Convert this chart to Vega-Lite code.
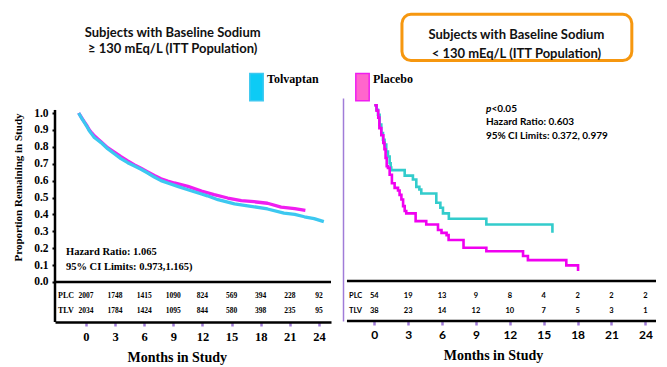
{
  "$schema": "https://vega.github.io/schema/vega-lite/v6.json",
  "background": "white",
  "padding": {"left": 11, "top": 12, "right": 5, "bottom": 5},
  "spacing": 10,
  "config": {"view": {"stroke": null}, "font": "Lato", "axis": {"grid": false, "labelOverlap": false}},
  "resolve": {"scale": {"color": "shared", "x": "independent", "y": "independent"}},
  "datasets": {
    "curves": [
      {"panel": "left", "arm": "Placebo", "month": -0.75, "surv": 1.0},
      {"panel": "left", "arm": "Placebo", "month": -0.45, "surv": 0.972},
      {"panel": "left", "arm": "Placebo", "month": -0.17, "surv": 0.948},
      {"panel": "left", "arm": "Placebo", "month": 0.1, "surv": 0.925},
      {"panel": "left", "arm": "Placebo", "month": 0.34, "surv": 0.9},
      {"panel": "left", "arm": "Placebo", "month": 0.6, "surv": 0.882},
      {"panel": "left", "arm": "Placebo", "month": 0.86, "surv": 0.865},
      {"panel": "left", "arm": "Placebo", "month": 1.2, "surv": 0.848},
      {"panel": "left", "arm": "Placebo", "month": 1.55, "surv": 0.83},
      {"panel": "left", "arm": "Placebo", "month": 2.23, "surv": 0.795},
      {"panel": "left", "arm": "Placebo", "month": 2.92, "surv": 0.769},
      {"panel": "left", "arm": "Placebo", "month": 3.6, "surv": 0.742},
      {"panel": "left", "arm": "Placebo", "month": 4.3, "surv": 0.716},
      {"panel": "left", "arm": "Placebo", "month": 5.0, "surv": 0.693},
      {"panel": "left", "arm": "Placebo", "month": 5.67, "surv": 0.673},
      {"panel": "left", "arm": "Placebo", "month": 6.36, "surv": 0.651},
      {"panel": "left", "arm": "Placebo", "month": 7.04, "surv": 0.63},
      {"panel": "left", "arm": "Placebo", "month": 7.73, "surv": 0.611},
      {"panel": "left", "arm": "Placebo", "month": 8.42, "surv": 0.597},
      {"panel": "left", "arm": "Placebo", "month": 9.1, "surv": 0.586},
      {"panel": "left", "arm": "Placebo", "month": 10.5, "surv": 0.566},
      {"panel": "left", "arm": "Placebo", "month": 11.9, "surv": 0.538},
      {"panel": "left", "arm": "Placebo", "month": 13.2, "surv": 0.517},
      {"panel": "left", "arm": "Placebo", "month": 14.6, "surv": 0.497},
      {"panel": "left", "arm": "Placebo", "month": 16.0, "surv": 0.482},
      {"panel": "left", "arm": "Placebo", "month": 17.3, "surv": 0.475},
      {"panel": "left", "arm": "Placebo", "month": 18.7, "surv": 0.466},
      {"panel": "left", "arm": "Placebo", "month": 20.1, "surv": 0.443},
      {"panel": "left", "arm": "Placebo", "month": 21.5, "surv": 0.434},
      {"panel": "left", "arm": "Placebo", "month": 22.6, "surv": 0.424},
      {"panel": "left", "arm": "Tolvaptan", "month": -0.75, "surv": 1.0},
      {"panel": "left", "arm": "Tolvaptan", "month": -0.45, "surv": 0.97},
      {"panel": "left", "arm": "Tolvaptan", "month": -0.17, "surv": 0.945},
      {"panel": "left", "arm": "Tolvaptan", "month": 0.1, "surv": 0.92},
      {"panel": "left", "arm": "Tolvaptan", "month": 0.34, "surv": 0.895},
      {"panel": "left", "arm": "Tolvaptan", "month": 0.6, "surv": 0.875},
      {"panel": "left", "arm": "Tolvaptan", "month": 0.86, "surv": 0.855},
      {"panel": "left", "arm": "Tolvaptan", "month": 1.2, "surv": 0.84},
      {"panel": "left", "arm": "Tolvaptan", "month": 1.55, "surv": 0.825},
      {"panel": "left", "arm": "Tolvaptan", "month": 2.23, "surv": 0.789},
      {"panel": "left", "arm": "Tolvaptan", "month": 2.92, "surv": 0.759},
      {"panel": "left", "arm": "Tolvaptan", "month": 3.6, "surv": 0.73},
      {"panel": "left", "arm": "Tolvaptan", "month": 4.3, "surv": 0.706},
      {"panel": "left", "arm": "Tolvaptan", "month": 5.0, "surv": 0.686},
      {"panel": "left", "arm": "Tolvaptan", "month": 5.67, "surv": 0.667},
      {"panel": "left", "arm": "Tolvaptan", "month": 6.36, "surv": 0.645},
      {"panel": "left", "arm": "Tolvaptan", "month": 7.04, "surv": 0.621},
      {"panel": "left", "arm": "Tolvaptan", "month": 7.73, "surv": 0.6},
      {"panel": "left", "arm": "Tolvaptan", "month": 8.42, "surv": 0.586},
      {"panel": "left", "arm": "Tolvaptan", "month": 9.45, "surv": 0.566},
      {"panel": "left", "arm": "Tolvaptan", "month": 10.5, "surv": 0.546},
      {"panel": "left", "arm": "Tolvaptan", "month": 11.9, "surv": 0.521},
      {"panel": "left", "arm": "Tolvaptan", "month": 12.5, "surv": 0.51},
      {"panel": "left", "arm": "Tolvaptan", "month": 13.6, "surv": 0.487},
      {"panel": "left", "arm": "Tolvaptan", "month": 15.3, "surv": 0.462},
      {"panel": "left", "arm": "Tolvaptan", "month": 17.0, "surv": 0.448},
      {"panel": "left", "arm": "Tolvaptan", "month": 18.7, "surv": 0.432},
      {"panel": "left", "arm": "Tolvaptan", "month": 20.4, "surv": 0.408},
      {"panel": "left", "arm": "Tolvaptan", "month": 21.5, "surv": 0.4},
      {"panel": "left", "arm": "Tolvaptan", "month": 22.5, "surv": 0.386},
      {"panel": "left", "arm": "Tolvaptan", "month": 23.5, "surv": 0.375},
      {"panel": "left", "arm": "Tolvaptan", "month": 24.5, "surv": 0.357},
      {"panel": "right", "arm": "Tolvaptan", "month": 0, "surv": 1.0},
      {"panel": "right", "arm": "Tolvaptan", "month": 0.2, "surv": 0.975},
      {"panel": "right", "arm": "Tolvaptan", "month": 0.33, "surv": 0.946},
      {"panel": "right", "arm": "Tolvaptan", "month": 0.47, "surv": 0.89},
      {"panel": "right", "arm": "Tolvaptan", "month": 0.62, "surv": 0.842},
      {"panel": "right", "arm": "Tolvaptan", "month": 0.77, "surv": 0.804},
      {"panel": "right", "arm": "Tolvaptan", "month": 0.91, "surv": 0.777},
      {"panel": "right", "arm": "Tolvaptan", "month": 1.06, "surv": 0.737},
      {"panel": "right", "arm": "Tolvaptan", "month": 1.21, "surv": 0.709},
      {"panel": "right", "arm": "Tolvaptan", "month": 1.36, "surv": 0.67},
      {"panel": "right", "arm": "Tolvaptan", "month": 1.45, "surv": 0.646},
      {"panel": "right", "arm": "Tolvaptan", "month": 1.5, "surv": 0.631},
      {"panel": "right", "arm": "Tolvaptan", "month": 2.69, "surv": 0.6},
      {"panel": "right", "arm": "Tolvaptan", "month": 3.42, "surv": 0.578},
      {"panel": "right", "arm": "Tolvaptan", "month": 3.72, "surv": 0.536},
      {"panel": "right", "arm": "Tolvaptan", "month": 3.99, "surv": 0.521},
      {"panel": "right", "arm": "Tolvaptan", "month": 4.16, "surv": 0.498},
      {"panel": "right", "arm": "Tolvaptan", "month": 5.49, "surv": 0.445},
      {"panel": "right", "arm": "Tolvaptan", "month": 5.85, "surv": 0.417},
      {"panel": "right", "arm": "Tolvaptan", "month": 6.08, "surv": 0.385},
      {"panel": "right", "arm": "Tolvaptan", "month": 6.6, "surv": 0.354},
      {"panel": "right", "arm": "Tolvaptan", "month": 9.92, "surv": 0.322},
      {"panel": "right", "arm": "Tolvaptan", "month": 15.77, "surv": 0.274},
      {"panel": "right", "arm": "Placebo", "month": 0, "surv": 1.0},
      {"panel": "right", "arm": "Placebo", "month": 0.2, "surv": 0.97},
      {"panel": "right", "arm": "Placebo", "month": 0.35, "surv": 0.93},
      {"panel": "right", "arm": "Placebo", "month": 0.45, "surv": 0.87},
      {"panel": "right", "arm": "Placebo", "month": 0.62, "surv": 0.83},
      {"panel": "right", "arm": "Placebo", "month": 0.8, "surv": 0.786},
      {"panel": "right", "arm": "Placebo", "month": 0.9, "surv": 0.75},
      {"panel": "right", "arm": "Placebo", "month": 1.0, "surv": 0.7},
      {"panel": "right", "arm": "Placebo", "month": 1.1, "surv": 0.653},
      {"panel": "right", "arm": "Placebo", "month": 1.21, "surv": 0.644},
      {"panel": "right", "arm": "Placebo", "month": 1.36, "surv": 0.605},
      {"panel": "right", "arm": "Placebo", "month": 1.56, "surv": 0.556},
      {"panel": "right", "arm": "Placebo", "month": 1.8, "surv": 0.53},
      {"panel": "right", "arm": "Placebo", "month": 2.1, "surv": 0.515},
      {"panel": "right", "arm": "Placebo", "month": 2.24, "surv": 0.49},
      {"panel": "right", "arm": "Placebo", "month": 2.4, "surv": 0.464},
      {"panel": "right", "arm": "Placebo", "month": 2.55, "surv": 0.426},
      {"panel": "right", "arm": "Placebo", "month": 2.69, "surv": 0.398},
      {"panel": "right", "arm": "Placebo", "month": 2.83, "surv": 0.385},
      {"panel": "right", "arm": "Placebo", "month": 3.66, "surv": 0.341},
      {"panel": "right", "arm": "Placebo", "month": 4.6, "surv": 0.322},
      {"panel": "right", "arm": "Placebo", "month": 5.64, "surv": 0.29},
      {"panel": "right", "arm": "Placebo", "month": 5.95, "surv": 0.274},
      {"panel": "right", "arm": "Placebo", "month": 6.4, "surv": 0.261},
      {"panel": "right", "arm": "Placebo", "month": 6.58, "surv": 0.233},
      {"panel": "right", "arm": "Placebo", "month": 7.9, "surv": 0.189},
      {"panel": "right", "arm": "Placebo", "month": 9.92, "surv": 0.169},
      {"panel": "right", "arm": "Placebo", "month": 13.17, "surv": 0.142},
      {"panel": "right", "arm": "Placebo", "month": 13.6, "surv": 0.119},
      {"panel": "right", "arm": "Placebo", "month": 17.0, "surv": 0.089},
      {"panel": "right", "arm": "Placebo", "month": 18.04, "surv": 0.057}
    ],
    "atrisk": [
      {"panel": "left", "row": "PLC", "month": 0, "n": 2007},
      {"panel": "left", "row": "PLC", "month": 3, "n": 1748},
      {"panel": "left", "row": "PLC", "month": 6, "n": 1415},
      {"panel": "left", "row": "PLC", "month": 9, "n": 1090},
      {"panel": "left", "row": "PLC", "month": 12, "n": 824},
      {"panel": "left", "row": "PLC", "month": 15, "n": 569},
      {"panel": "left", "row": "PLC", "month": 18, "n": 394},
      {"panel": "left", "row": "PLC", "month": 21, "n": 228},
      {"panel": "left", "row": "PLC", "month": 24, "n": 92},
      {"panel": "left", "row": "TLV", "month": 0, "n": 2034},
      {"panel": "left", "row": "TLV", "month": 3, "n": 1784},
      {"panel": "left", "row": "TLV", "month": 6, "n": 1424},
      {"panel": "left", "row": "TLV", "month": 9, "n": 1095},
      {"panel": "left", "row": "TLV", "month": 12, "n": 844},
      {"panel": "left", "row": "TLV", "month": 15, "n": 580},
      {"panel": "left", "row": "TLV", "month": 18, "n": 398},
      {"panel": "left", "row": "TLV", "month": 21, "n": 235},
      {"panel": "left", "row": "TLV", "month": 24, "n": 95},
      {"panel": "right", "row": "PLC", "month": 0, "n": 54},
      {"panel": "right", "row": "PLC", "month": 3, "n": 19},
      {"panel": "right", "row": "PLC", "month": 6, "n": 13},
      {"panel": "right", "row": "PLC", "month": 9, "n": 9},
      {"panel": "right", "row": "PLC", "month": 12, "n": 8},
      {"panel": "right", "row": "PLC", "month": 15, "n": 4},
      {"panel": "right", "row": "PLC", "month": 18, "n": 2},
      {"panel": "right", "row": "PLC", "month": 21, "n": 2},
      {"panel": "right", "row": "PLC", "month": 24, "n": 2},
      {"panel": "right", "row": "TLV", "month": 0, "n": 38},
      {"panel": "right", "row": "TLV", "month": 3, "n": 23},
      {"panel": "right", "row": "TLV", "month": 6, "n": 14},
      {"panel": "right", "row": "TLV", "month": 9, "n": 12},
      {"panel": "right", "row": "TLV", "month": 12, "n": 10},
      {"panel": "right", "row": "TLV", "month": 15, "n": 7},
      {"panel": "right", "row": "TLV", "month": 18, "n": 5},
      {"panel": "right", "row": "TLV", "month": 21, "n": 3},
      {"panel": "right", "row": "TLV", "month": 24, "n": 1}
    ]
  },
  "hconcat": [
    {
      "width": 276,
      "height": 224,
      "layer": [
        {
          "data": {"name": "curves"},
          "transform": [{"filter": "datum.panel === 'left'"}],
          "mark": {"type": "line", "strokeWidth": 3.3, "strokeJoin": "round"},
          "encoding": {
            "x": {
              "field": "month", "type": "quantitative",
              "scale": {"domain": [-3.19, 25.24], "nice": false, "zero": false},
              "axis": {
                "values": [0, 3, 6, 9, 12, 15, 18, 21, 24], "tickCount": 30,
                "title": "Months in Study",
                "titleFont": "Liberation Serif", "titleFontSize": 14, "titleFontWeight": "bold", "titleColor": "black",
                "titleX": 121.8, "titleY": 39, "titleBaseline": "alphabetic", "titleAlign": "center",
                "labelFont": "Liberation Serif", "labelFontSize": 12.5, "labelFontWeight": "bold", "labelColor": "black",
                "labelPadding": 4, "labelFlush": false, "labelOverlap": false,
                "tickColor": "#A07CD8", "tickSize": 4, "tickWidth": 2.5,
                "domainColor": "black", "domainWidth": 2.5
              }
            },
            "y": {
              "field": "surv", "type": "quantitative",
              "scale": {"domain": [-0.2367, 1.0888], "nice": false, "zero": false},
              "axis": {
                "values": [0, 0.1, 0.2, 0.3, 0.4, 0.5, 0.6, 0.7, 0.8, 0.9, 1.0], "tickCount": 30,
                "format": ".1f",
                "title": "Proportion Remaining in Study",
                "titleFont": "Liberation Serif", "titleFontSize": 11, "titleFontWeight": "bold", "titleColor": "black",
                "titleAngle": 270, "titleX": -34, "titleY": 89, "titleBaseline": "alphabetic", "titleAlign": "center",
                "labelFont": "Liberation Serif", "labelFontSize": 11.5, "labelFontWeight": "bold", "labelColor": "black",
                "labelPadding": 4, "labelFlush": false, "labelOverlap": false,
                "tickColor": "black", "tickSize": 3, "tickWidth": 2,
                "domain": false
              }
            },
            "color": {
              "field": "arm", "type": "nominal",
              "scale": {"domain": ["Tolvaptan", "Placebo"], "range": ["#3CC8F0", "#F01EF0"]},
              "legend": {
                "orient": "none", "legendX": 187, "legendY": -30, "direction": "horizontal", "title": null,
                "padding": 0, "columnPadding": 29,
                "symbolType": "M-0.496,-0.689 h0.992 v2.022 h-0.992 z", "symbolSize": 729,
                "symbolStrokeColor": "black", "symbolStrokeWidth": 1.5,
                "labelFont": "Liberation Serif", "labelFontSize": 12, "labelFontWeight": "bold", "labelColor": "black",
                "labelOffset": -4, "labelBaseline": "alphabetic",
                "encode": {"symbols": {"update": {
                  "fill": {"signal": "datum.value === 'Tolvaptan' ? '#0DCBF5' : '#FF66CC'"},
                  "stroke": {"value": "black"},
                  "strokeWidth": {"value": 1.5},
                  "opacity": {"value": 1}
                }}}
              }
            }
          }
        },
        {
          "data": {"values": [{}]},
          "mark": {"type": "rule", "color": "black", "strokeWidth": 2.5},
          "encoding": {"y": {"datum": 0, "type": "quantitative"}}
        },
        {
          "data": {"values": [{}]},
          "mark": {"type": "rule", "color": "black", "strokeWidth": 2.5},
          "encoding": {
            "x": {"datum": -3.19, "type": "quantitative"},
            "y": {"datum": -0.2367, "type": "quantitative"},
            "y2": {"datum": 1.018}
          }
        },
        {
          "data": {"name": "atrisk"},
          "transform": [{"filter": "datum.panel === 'left' && datum.row === 'PLC'"}],
          "mark": {"type": "text", "font": "Liberation Serif", "fontWeight": "bold", "fontSize": 7.5, "color": "black", "align": "center", "baseline": "middle"},
          "encoding": {
            "x": {"field": "month", "type": "quantitative"},
            "y": {"datum": -0.083, "type": "quantitative"},
            "text": {"field": "n", "type": "nominal"}
          }
        },
        {
          "data": {"name": "atrisk"},
          "transform": [{"filter": "datum.panel === 'left' && datum.row === 'TLV'"}],
          "mark": {"type": "text", "font": "Liberation Serif", "fontWeight": "bold", "fontSize": 7.5, "color": "black", "align": "center", "baseline": "middle"},
          "encoding": {
            "x": {"field": "month", "type": "quantitative"},
            "y": {"datum": -0.169, "type": "quantitative"},
            "text": {"field": "n", "type": "nominal"}
          }
        },
        {
          "data": {"name": "atrisk"},
          "transform": [{"filter": "datum.panel === 'left' && datum.row === 'PLC' && datum.month === 0"}],
          "mark": {"type": "text", "font": "Liberation Serif", "fontWeight": "bold", "fontSize": 8, "color": "black", "align": "left", "baseline": "middle"},
          "encoding": {
            "x": {"datum": -2.88, "type": "quantitative"},
            "y": {"datum": -0.083, "type": "quantitative"},
            "text": {"field": "row", "type": "nominal"}
          }
        },
        {
          "data": {"name": "atrisk"},
          "transform": [{"filter": "datum.panel === 'left' && datum.row === 'TLV' && datum.month === 0"}],
          "mark": {"type": "text", "font": "Liberation Serif", "fontWeight": "bold", "fontSize": 8, "color": "black", "align": "left", "baseline": "middle"},
          "encoding": {
            "x": {"datum": -2.88, "type": "quantitative"},
            "y": {"datum": -0.169, "type": "quantitative"},
            "text": {"field": "row", "type": "nominal"}
          }
        },
        {
          "data": {"values": [{}]},
          "mark": {"type": "text", "text": ["Hazard Ratio: 1.065", "95% CI Limits: 0.973,1.165)"], "lineHeight": 15.3,
                   "font": "Liberation Serif", "fontWeight": "bold", "fontSize": 10.5, "color": "black", "align": "left", "baseline": "alphabetic"},
          "encoding": {
            "x": {"datum": -2.06, "type": "quantitative"},
            "y": {"datum": 0.1598, "type": "quantitative"}
          }
        },
        {
          "data": {"values": [{}]},
          "mark": {"type": "text", "text": ["Subjects with Baseline Sodium", "≥ 130 mEq/L (ITT Population)"], "lineHeight": 16,
                   "font": "Lato", "fontWeight": "bold", "fontSize": 13, "color": "#111111", "align": "center", "baseline": "alphabetic", "clip": false},
          "encoding": {
            "x": {"datum": 8.93, "type": "quantitative"},
            "y": {"datum": 1.4515, "type": "quantitative"}
          }
        }
      ]
    },
    {
      "width": 313,
      "height": 223,
      "layer": [
        {
          "data": {"name": "curves"},
          "transform": [{"filter": "datum.panel === 'right' && datum.arm === 'Tolvaptan'"}],
          "mark": {"type": "line", "strokeWidth": 2.6, "interpolate": "step-after", "color": "#33CCCC"},
          "encoding": {
            "x": {
              "field": "month", "type": "quantitative",
              "scale": {"domain": [-2.77, 24.94], "nice": false, "zero": false},
              "axis": {
                "values": [0, 3, 6, 9, 12, 15, 18, 21, 24], "tickCount": 30,
                "title": "Months in Study",
                "titleFont": "Liberation Serif", "titleFontSize": 14, "titleFontWeight": "bold", "titleColor": "black",
                "titleX": 150, "titleY": 38, "titleBaseline": "alphabetic", "titleAlign": "center",
                "labelFont": "Lato", "labelFontSize": 12, "labelFontWeight": "bold", "labelColor": "black",
                "labelPadding": 4, "labelFlush": false, "labelOverlap": false,
                "tickColor": "#A07CD8", "tickSize": 4, "tickWidth": 2.5,
                "domain": false
              }
            },
            "y": {
              "field": "surv", "type": "quantitative",
              "scale": {"domain": [-0.2277, 1.0416], "nice": false, "zero": false},
              "axis": {"labels": false, "ticks": false, "title": null, "domain": true, "domainColor": "#A07CD8", "domainWidth": 1.5}
            }
          }
        },
        {
          "data": {"name": "curves"},
          "transform": [{"filter": "datum.panel === 'right' && datum.arm === 'Placebo'"}],
          "mark": {"type": "line", "strokeWidth": 2.6, "interpolate": "step-after", "color": "#F000F0"},
          "encoding": {
            "x": {"field": "month", "type": "quantitative"},
            "y": {"field": "surv", "type": "quantitative"}
          }
        },
        {
          "data": {"values": [{}]},
          "mark": {"type": "rule", "color": "black", "strokeWidth": 2.5},
          "encoding": {
            "x": {"datum": -2.42, "type": "quantitative"},
            "x2": {"datum": 24.94},
            "y": {"datum": 0, "type": "quantitative"}
          }
        },
        {
          "data": {"values": [{}]},
          "mark": {"type": "rule", "color": "black", "strokeWidth": 2.5},
          "encoding": {
            "x": {"datum": -2.42, "type": "quantitative"},
            "x2": {"datum": 24.94},
            "y": {"datum": -0.2277, "type": "quantitative"}
          }
        },
        {
          "data": {"name": "atrisk"},
          "transform": [{"filter": "datum.panel === 'right' && datum.row === 'PLC'"}],
          "mark": {"type": "text", "font": "Lato", "fontWeight": "bold", "fontSize": 7.5, "color": "black", "align": "center", "baseline": "middle"},
          "encoding": {
            "x": {"field": "month", "type": "quantitative"},
            "y": {"datum": -0.085, "type": "quantitative"},
            "text": {"field": "n", "type": "nominal"}
          }
        },
        {
          "data": {"name": "atrisk"},
          "transform": [{"filter": "datum.panel === 'right' && datum.row === 'TLV'"}],
          "mark": {"type": "text", "font": "Lato", "fontWeight": "bold", "fontSize": 7.5, "color": "black", "align": "center", "baseline": "middle"},
          "encoding": {
            "x": {"field": "month", "type": "quantitative"},
            "y": {"datum": -0.171, "type": "quantitative"},
            "text": {"field": "n", "type": "nominal"}
          }
        },
        {
          "data": {"name": "atrisk"},
          "transform": [{"filter": "datum.panel === 'right' && datum.row === 'PLC' && datum.month === 0"}],
          "mark": {"type": "text", "font": "Lato", "fontWeight": "bold", "fontSize": 7.5, "color": "black", "align": "left", "baseline": "middle"},
          "encoding": {
            "x": {"datum": -2.24, "type": "quantitative"},
            "y": {"datum": -0.085, "type": "quantitative"},
            "text": {"field": "row", "type": "nominal"}
          }
        },
        {
          "data": {"name": "atrisk"},
          "transform": [{"filter": "datum.panel === 'right' && datum.row === 'TLV' && datum.month === 0"}],
          "mark": {"type": "text", "font": "Lato", "fontWeight": "bold", "fontSize": 7.5, "color": "black", "align": "left", "baseline": "middle"},
          "encoding": {
            "x": {"datum": -2.24, "type": "quantitative"},
            "y": {"datum": -0.171, "type": "quantitative"},
            "text": {"field": "row", "type": "nominal"}
          }
        },
        {
          "data": {"values": [{}]},
          "mark": {"type": "text", "text": "p", "font": "Lato", "fontWeight": "bold", "fontStyle": "italic", "fontSize": 10, "color": "black", "align": "left", "baseline": "alphabetic"},
          "encoding": {
            "x": {"datum": 9.88, "type": "quantitative"},
            "y": {"datum": 0.962, "type": "quantitative"}
          }
        },
        {
          "data": {"values": [{}]},
          "mark": {"type": "text", "text": "<0.05", "dx": 5.5, "font": "Lato", "fontWeight": "bold", "fontSize": 10, "color": "black", "align": "left", "baseline": "alphabetic"},
          "encoding": {
            "x": {"datum": 9.88, "type": "quantitative"},
            "y": {"datum": 0.962, "type": "quantitative"}
          }
        },
        {
          "data": {"values": [{}]},
          "mark": {"type": "text", "text": ["Hazard Ratio: 0.603", "95% CI Limits: 0.372, 0.979"], "lineHeight": 13.4,
                   "font": "Lato", "fontWeight": "bold", "fontSize": 10, "color": "black", "align": "left", "baseline": "alphabetic"},
          "encoding": {
            "x": {"datum": 9.88, "type": "quantitative"},
            "y": {"datum": 0.886, "type": "quantitative"}
          }
        },
        {
          "data": {"values": [{}]},
          "mark": {"type": "rect", "fill": "white", "fillOpacity": 0, "stroke": "#F6970F", "strokeWidth": 3, "cornerRadius": 9, "clip": false},
          "encoding": {
            "x": {"datum": 2.45, "type": "quantitative"},
            "x2": {"datum": 22.8},
            "y": {"datum": 1.518, "type": "quantitative"},
            "y2": {"datum": 1.255}
          }
        },
        {
          "data": {"values": [{}]},
          "mark": {"type": "text", "text": ["Subjects with Baseline Sodium", "< 130 mEq/L (ITT Population)"], "lineHeight": 18.4,
                   "font": "Lato", "fontWeight": "bold", "fontSize": 13, "color": "#111111", "align": "center", "baseline": "alphabetic", "clip": false},
          "encoding": {
            "x": {"datum": 12.58, "type": "quantitative"},
            "y": {"datum": 1.3757, "type": "quantitative"}
          }
        }
      ]
    }
  ]
}
